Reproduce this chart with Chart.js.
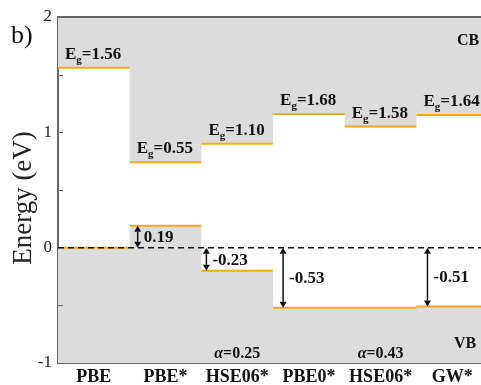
<!DOCTYPE html>
<html>
<head>
<meta charset="utf-8">
<script src="https://cdn.jsdelivr.net/npm/chart.js@4.4.1/dist/chart.umd.min.js"></script>
<style>
html, body { margin: 0; padding: 0; background: #fff; overflow: hidden; }
#wrap { width: 481px; height: 385px; position: relative; }
</style>
</head>
<body>
<div id="wrap"><canvas id="bandChart"></canvas></div>
<script>

/* =========================
   DATA
========================= */

const methods = ["PBE", "PBE*", "HSE06*", "PBE0*", "HSE06*", "GW*"];

// band edges (eV), VB of PBE set to 0
const vbEdge = [0, 0.19, -0.20, -0.52, -0.52, -0.51];
const cbEdge = [1.56, 0.74, 0.90, 1.16, 1.05, 1.15];

const gapLabels = ["1.56", "0.55", "1.10", "1.68", "1.58", "1.64"];
const shiftLabels = [null, "0.19", "-0.23", "-0.53", null, "-0.51"];
const alphaLabels = [null, null, "0.25", null, "0.43", null];

const yTicks = [-1, 0, 1, 2];
const yMinorTicks = [-0.5, 0.5, 1.5];

/* =========================
   STYLE
========================= */

const SERIF = "'Liberation Serif', 'Times New Roman', serif";
const ORANGE = "#f7a81e";
const GREY = "#dcdcdc";
const AXIS = "#666";
const INK = "#111";

// arrow offset from column left edge (px)
const arrowOffset = [0, 8, 5, 10, 0, 11];

function stepPoints(vals){
    const pts = vals.map((v, i) => ({ x: i, y: v }));
    pts.push({ x: vals.length, y: vals[vals.length - 1] });
    return pts;
}

function levelSegments(vals){
    const pts = [];
    vals.forEach((v, i) => {
        pts.push({ x: i, y: v }, { x: i + 1, y: v }, { x: i + 1, y: null });
    });
    return pts;
}

/* =========================
   ANNOTATION PLUGIN
========================= */

function drawArrow(ctx, px, yFrom, yTo){
    const dir = yTo > yFrom ? 1 : -1;
    const head = 6, half = 3.5;
    ctx.strokeStyle = INK;
    ctx.fillStyle = INK;
    ctx.lineWidth = 1.5;
    ctx.beginPath();
    ctx.moveTo(px, yFrom + dir * head);
    ctx.lineTo(px, yTo - dir * head);
    ctx.stroke();
    [[yFrom, -dir], [yTo, dir]].forEach(([tip, d]) => {
        ctx.beginPath();
        ctx.moveTo(px, tip);
        ctx.lineTo(px - half, tip - d * head);
        ctx.lineTo(px + half, tip - d * head);
        ctx.closePath();
        ctx.fill();
    });
}

function drawGap(ctx, px, base, value){
    ctx.textAlign = "left";
    ctx.textBaseline = "alphabetic";
    ctx.fillStyle = INK;
    ctx.font = "bold 17px " + SERIF;
    ctx.fillText("E", px, base);
    let w = ctx.measureText("E").width;
    ctx.font = "bold 11px " + SERIF;
    ctx.fillText("g", px + w, base + 4);
    w += ctx.measureText("g").width;
    ctx.font = "bold 17px " + SERIF;
    ctx.fillText("=" + value, px + w, base);
}

const bandNotes = {
    id: "bandNotes",
    afterDraw(chart){
        const { ctx, chartArea, scales: { x, y } } = chart;
        ctx.save();

        // top frame line
        ctx.strokeStyle = AXIS;
        ctx.lineWidth = 2;
        ctx.beginPath();
        ctx.moveTo(chartArea.left, chartArea.top);
        ctx.lineTo(chartArea.right, chartArea.top);
        ctx.stroke();

        // inward y ticks
        ctx.lineWidth = 1;
        yTicks.concat(yMinorTicks).forEach(v => {
            const py = Math.round(y.getPixelForValue(v)) + 0.5;
            ctx.beginPath();
            ctx.moveTo(chartArea.left, py);
            ctx.lineTo(chartArea.left + 5, py);
            ctx.stroke();
        });

        ctx.beginPath();
        ctx.rect(chartArea.left, chartArea.top, chartArea.right - chartArea.left, chartArea.bottom - chartArea.top);
        ctx.clip();

        methods.forEach((m, i) => {
            const left = x.getPixelForValue(i);
            const center = x.getPixelForValue(i + 0.5);

            drawGap(ctx, left + 7, y.getPixelForValue(cbEdge[i]) - 9, gapLabels[i]);

            if(shiftLabels[i]){
                const px = left + arrowOffset[i];
                const y0 = y.getPixelForValue(0);
                const y1 = y.getPixelForValue(vbEdge[i]);
                drawArrow(ctx, px, y0, y1);
                ctx.font = "bold 17px " + SERIF;
                ctx.textAlign = "left";
                ctx.textBaseline = "middle";
                ctx.fillStyle = INK;
                ctx.fillText(shiftLabels[i], px + 6, (y0 + y1) / 2 + 1);
            }

            if(alphaLabels[i]){
                ctx.textBaseline = "alphabetic";
                ctx.font = "italic bold 16px " + SERIF;
                const wa = ctx.measureText("\u03b1").width;
                ctx.font = "bold 16px " + SERIF;
                const wr = ctx.measureText("=" + alphaLabels[i]).width;
                const start = center - (wa + wr) / 2;
                ctx.textAlign = "left";
                ctx.font = "italic bold 16px " + SERIF;
                ctx.fillText("\u03b1", start, chartArea.bottom - 5);
                ctx.font = "bold 16px " + SERIF;
                ctx.fillText("=" + alphaLabels[i], start + wa, chartArea.bottom - 5);
            }
        });

        ctx.font = "bold 16px " + SERIF;
        ctx.textAlign = "left";
        ctx.textBaseline = "alphabetic";
        ctx.fillText("CB", 457, 45);
        ctx.fillText("VB", 454, 348);
        ctx.restore();

        // panel label and axis title
        ctx.save();
        ctx.fillStyle = INK;
        ctx.font = "26px " + SERIF;
        ctx.textAlign = "left";
        ctx.textBaseline = "alphabetic";
        ctx.fillText("b)", 11, 43);

        ctx.fillStyle = "#222";
        ctx.font = "27px " + SERIF;
        ctx.translate(24, 198);
        ctx.rotate(-Math.PI / 2);
        ctx.textAlign = "center";
        ctx.textBaseline = "middle";
        ctx.fillText("Energy (eV)", 0, 0);
        ctx.restore();
    }
};

/* =========================
   CHART
========================= */

const ctxBand = document.getElementById("bandChart");

new Chart(ctxBand, {

    type: "line",

    data: {

        datasets: [
            {
                data: [{ x: 0, y: 0 }, { x: methods.length, y: 0 }],
                borderColor: INK,
                borderWidth: 1.5,
                borderDash: [6, 4],
                pointRadius: 0,
                fill: false,
                order: 0
            },
            {
                data: levelSegments(cbEdge),
                borderColor: ORANGE,
                borderWidth: 2,
                pointRadius: 0,
                spanGaps: false,
                fill: false,
                order: 1
            },
            {
                data: levelSegments(vbEdge),
                borderColor: ORANGE,
                borderWidth: 2,
                pointRadius: 0,
                spanGaps: false,
                fill: false,
                order: 1
            },
            {
                data: stepPoints(cbEdge),
                stepped: true,
                borderColor: "rgba(0,0,0,0)",
                borderWidth: 0,
                backgroundColor: GREY,
                pointRadius: 0,
                fill: "end",
                order: 5
            },
            {
                data: stepPoints(vbEdge),
                stepped: true,
                borderColor: "rgba(0,0,0,0)",
                borderWidth: 0,
                backgroundColor: GREY,
                pointRadius: 0,
                fill: "start",
                order: 5
            }
        ]

    },

    options: {

        responsive: true,
        maintainAspectRatio: false,
        animation: false,

        layout: {
            padding: { top: 17, right: 0, bottom: 0, left: 0 }
        },

        plugins: {
            legend: { display: false },
            tooltip: { enabled: false }
        },

        scales: {

            x: {
                type: "linear",
                min: 0,
                max: 5.9,
                grid: { display: false, drawTicks: false },
                border: { color: AXIS, width: 2 },
                afterBuildTicks: scale => {
                    scale.ticks = methods.map((m, i) => ({ value: i + 0.5 }));
                },
                afterFit: scale => { scale.height = 22; },
                ticks: {
                    autoSkip: false,
                    maxRotation: 0,
                    padding: 4,
                    color: INK,
                    font: { family: SERIF, size: 18, weight: "bold" },
                    callback: v => methods[Math.floor(v)]
                }
            },

            y: {
                min: -1,
                max: 2,
                grid: { display: false, drawTicks: false },
                border: { color: AXIS, width: 2 },
                afterBuildTicks: scale => {
                    scale.ticks = yTicks.map(v => ({ value: v }));
                },
                afterFit: scale => { scale.width = 58; },
                ticks: {
                    padding: 6,
                    color: "#222",
                    font: { family: SERIF, size: 17 }
                },
                title: { display: false }
            }

        }

    },

    plugins: [bandNotes]

});

</script>
</body>
</html>
